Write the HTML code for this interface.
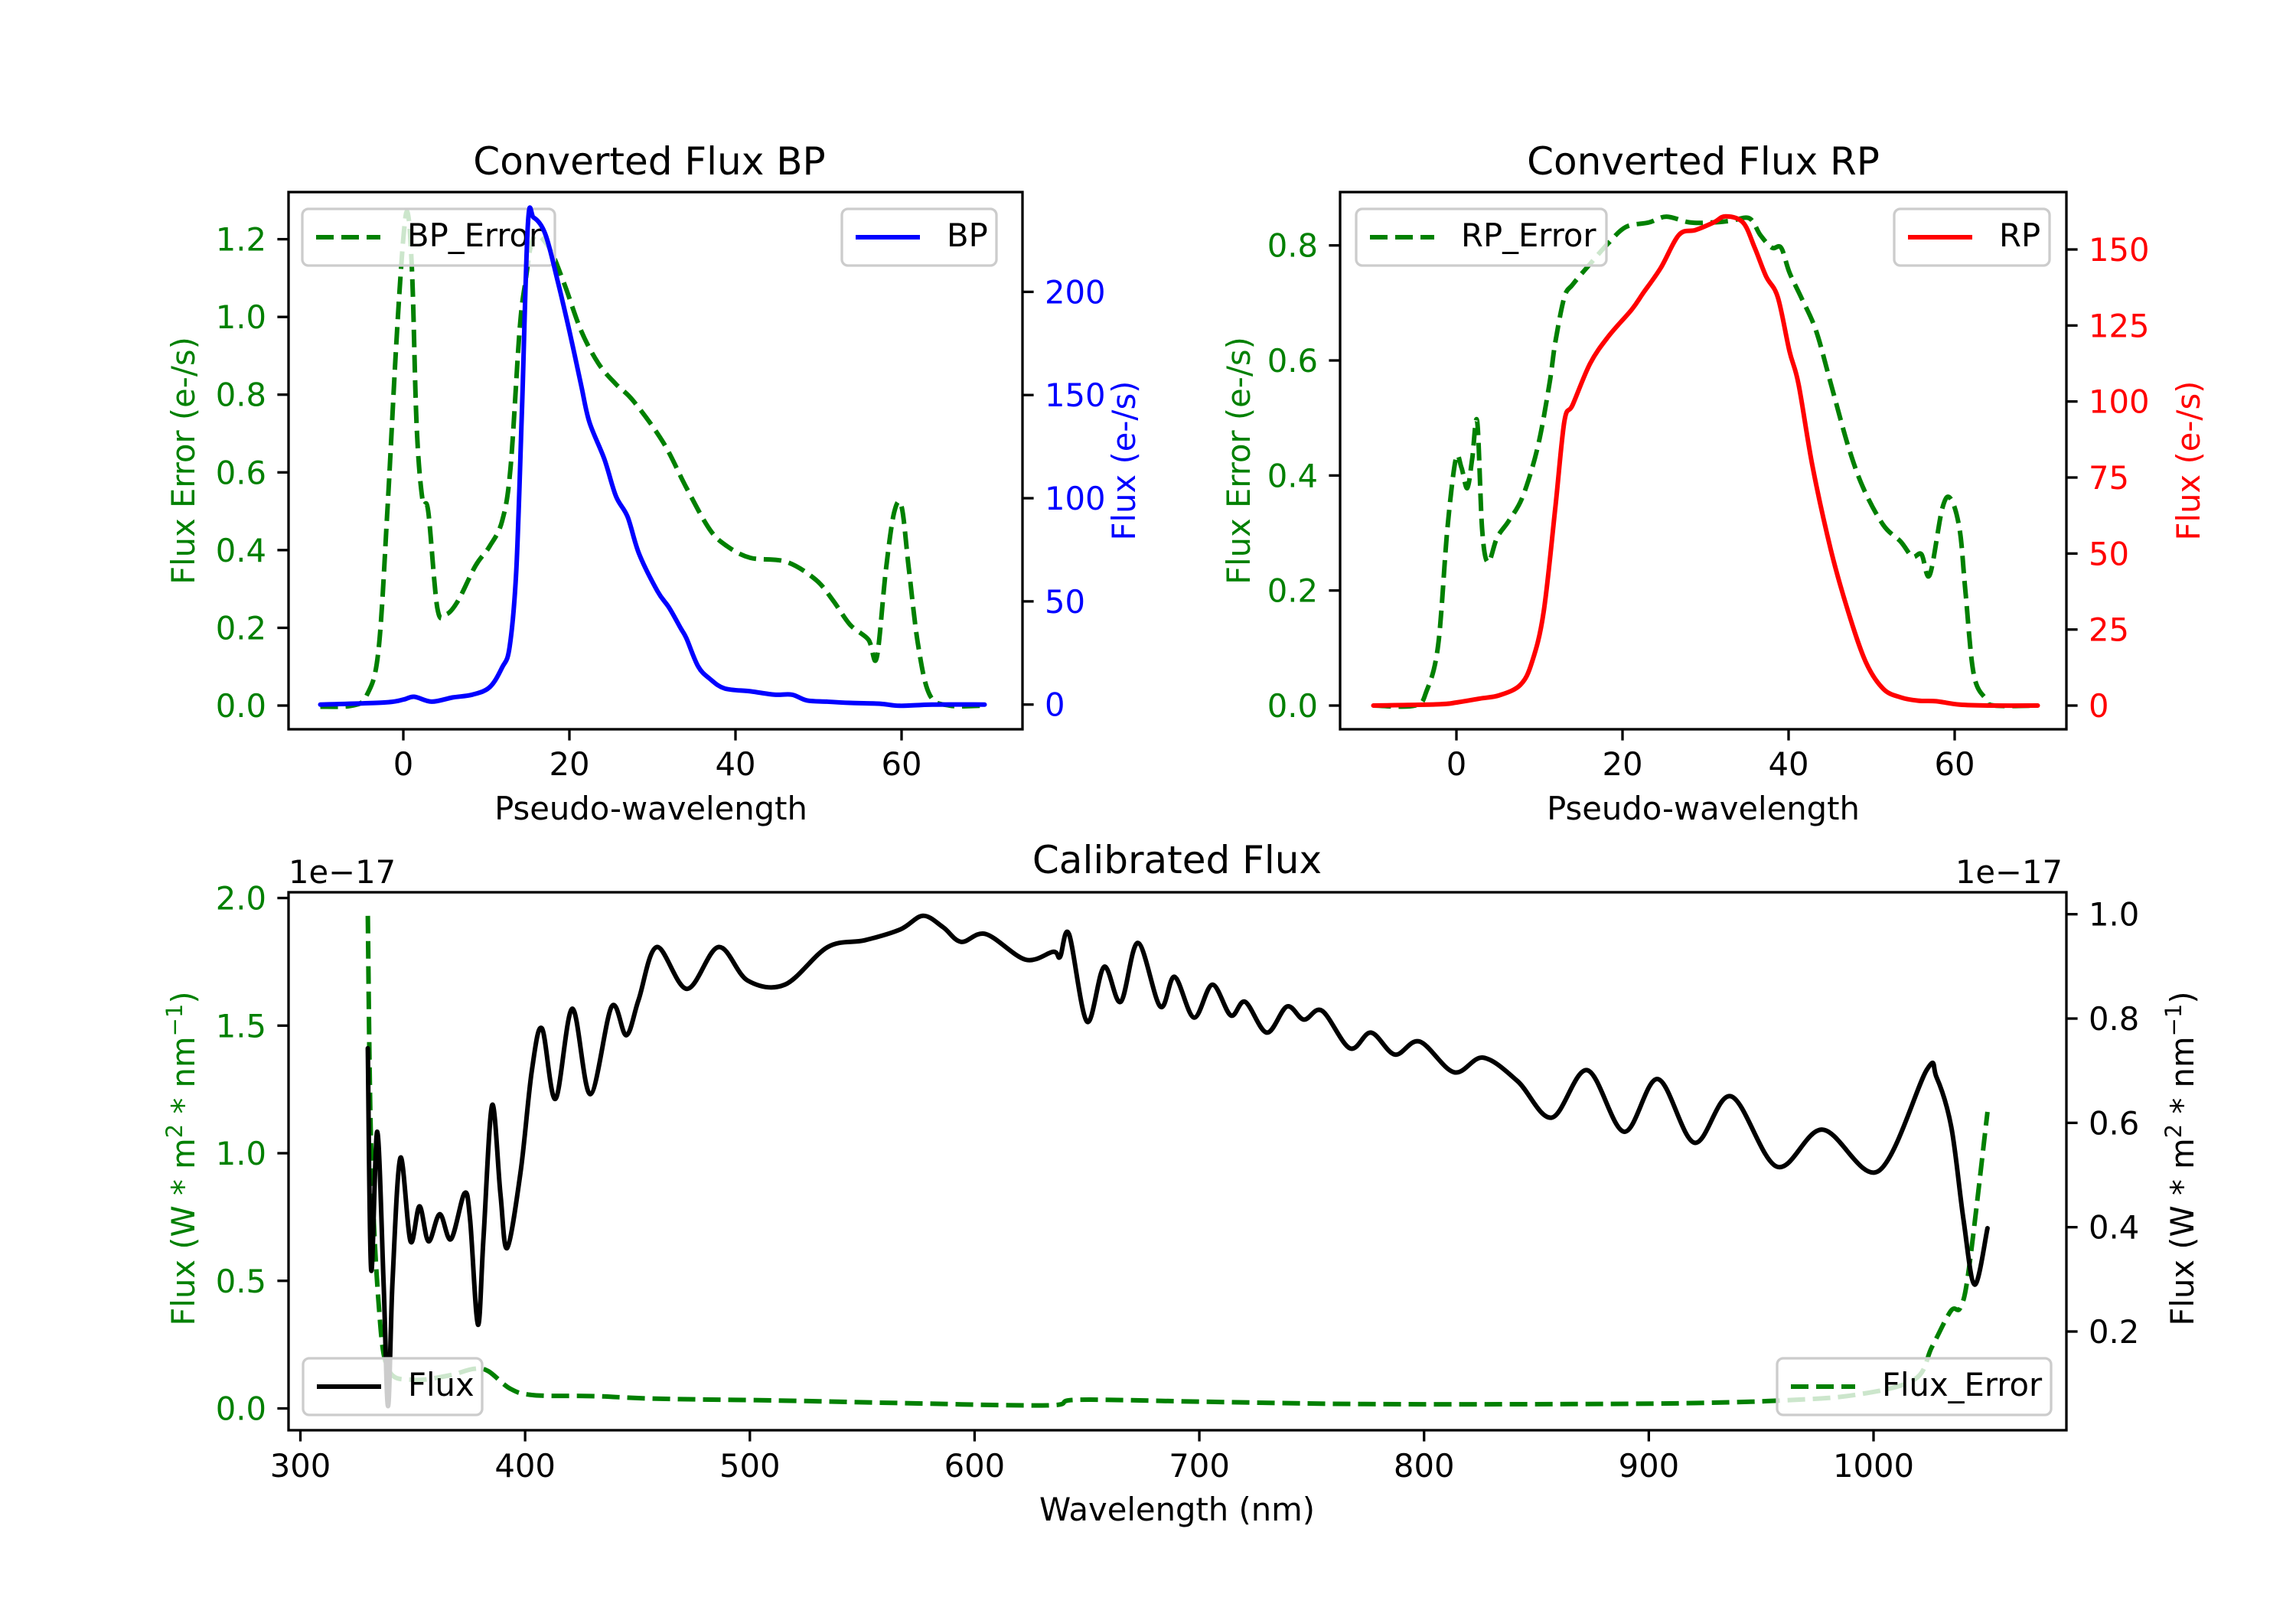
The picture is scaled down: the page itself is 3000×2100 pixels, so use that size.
<!DOCTYPE html>
<html><head><meta charset="utf-8">
<style>
html,body{margin:0;padding:0;background:#fff;}
svg{display:block;font-family:"DejaVu Sans","Liberation Sans",sans-serif;}
</style></head>
<body>
<svg id="fig" width="3000" height="2100" viewBox="0 0 3000 2100" xmlns="http://www.w3.org/2000/svg"></svg>
<script>
// ---------- DATA ----------
const bpFluxX = [-10,-2.3,0,1.3,3.4,5.9,8.3,10.4,11.9,12.8,13.6,14.3,15.0,15.7,17.1,18.6,20,21.4,22.4,24.2,25.6,27.0,28.4,30.6,32,33.4,34.1,35.5,36.9,38.7,41.8,44.7,46.8,48.6,51,53.8,57.4,59.8,63.7,70];
const bpFluxY = [0,1,2.4,3.8,1.4,3.4,4.8,8.4,18,28,65,145,233,236,228,205,181,155,137,119,101,91,73,55,47,37,32,18.5,12.5,7.8,6.4,4.8,4.8,2,1.4,0.8,0.4,-0.6,0,0];
const bpErrX = [-10,-6.1,-4.4,-3,-1.9,-0.85,0.07,0.6,1.1,1.6,2.3,3,4.1,5.2,6.6,8.7,10.4,11.9,12.9,14,14.7,15.7,17.5,19.3,21.4,23.5,25.6,27.7,31.3,34.1,36.9,39,41.8,46.1,49.6,51.7,53.8,56,57,58.1,59.1,60,60.9,62,63.4,65.8,70];
const bpErrY = [-0.003,0,0.027,0.14,0.51,0.93,1.22,1.26,1.09,0.72,0.53,0.50,0.25,0.235,0.27,0.36,0.41,0.475,0.61,0.965,1.09,1.205,1.18,1.09,0.965,0.88,0.827,0.784,0.677,0.56,0.453,0.41,0.38,0.37,0.325,0.272,0.208,0.17,0.123,0.347,0.496,0.512,0.347,0.155,0.027,0,0];
const rpFluxX = [-10,-2.2,0,2.8,5.2,7.7,9.1,10.5,11.9,13,14,16.1,18.3,21.1,22.5,24.6,26.8,28.8,31,32.4,34.5,35.9,37.3,38.7,40.1,41.2,42.9,45.1,47.2,49.3,51.4,53.5,55.6,57.8,60.6,64.1,70];
const rpFluxY = [0,0.4,1,2.3,3.4,6.8,14.3,30.7,64.8,93.4,98.9,112.5,121.4,130.2,135.7,143.9,154.8,156.4,158.9,160.9,158.9,150.7,141.1,134.3,116.6,105.7,78.4,51.1,30.7,14.3,5.5,2.7,1.6,1.4,0.3,0,0];
const rpErrX = [-10,-5,-3.6,-2.2,-1.1,-0.07,0.6,1.3,1.9,2.5,3.1,3.8,4.9,6.3,8,9.8,11.2,11.9,13,14,16.1,18.3,20.4,23.2,25.3,28.1,31,33.1,35.3,36.6,38,39.1,40.1,41.5,43.3,45.1,47.2,49,51.4,53.5,54.9,56,57,58.5,59.5,60.6,61.3,62.3,63.8,64.8,70];
const rpErrY = [0,0,0.025,0.105,0.306,0.429,0.414,0.378,0.429,0.494,0.306,0.249,0.292,0.321,0.364,0.450,0.559,0.631,0.710,0.732,0.768,0.804,0.832,0.840,0.850,0.840,0.840,0.843,0.847,0.818,0.796,0.796,0.753,0.710,0.652,0.559,0.450,0.378,0.314,0.285,0.259,0.263,0.227,0.342,0.360,0.306,0.198,0.054,0.011,0,0];
const calWave = [330,331.5,334.2,337,339,341,344.5,349,353,357,362,367,373,375.5,379,381.5,385.3,389,392,398,403,407.5,413.5,421,429,438.5,445,450.5,458.6,472,486,499,515.6,534.6,551,567,577,586,594,605,622.6,635,638,642,650,657.6,665,672.7,682.6,689,697.6,705.8,714,720.4,730,739,746.5,754.6,767,776.4,787,798,813.3,826.3,841.6,856.8,872.6,889,904,920.3,936.6,957,977.3,1002,1023.6,1028,1034.6,1040,1045,1050.7];
const calFlux = [0.743,0.318,0.583,0.297,0.057,0.297,0.533,0.373,0.44,0.373,0.425,0.377,0.465,0.415,0.213,0.381,0.634,0.465,0.36,0.507,0.701,0.781,0.646,0.819,0.655,0.823,0.768,0.836,0.937,0.857,0.937,0.873,0.865,0.937,0.95,0.971,0.997,0.975,0.947,0.962,0.913,0.928,0.918,0.962,0.794,0.899,0.832,0.945,0.823,0.880,0.802,0.865,0.806,0.832,0.773,0.823,0.798,0.815,0.743,0.773,0.731,0.756,0.697,0.725,0.68,0.61,0.701,0.583,0.684,0.562,0.651,0.516,0.587,0.507,0.701,0.688,0.592,0.415,0.29,0.398];
const errWave = [330,331.5,334.8,339,350,366,377,383.6,393.4,404,431.5,458.6,513,567,632.4,646,703,773.6,866,920,958.3,991,1018,1026,1034.4,1038.7,1042.5,1050.7];
const errFlux = [1.93,1.015,0.413,0.155,0.112,0.129,0.155,0.146,0.077,0.052,0.048,0.038,0.031,0.021,0.012,0.034,0.026,0.017,0.017,0.021,0.031,0.052,0.112,0.241,0.382,0.396,0.551,1.162];
const pwTicks = [0,20,40,60];
const bpErrTicks = [0.0,0.2,0.4,0.6,0.8,1.0,1.2];
const bpFluxTicks = [0,50,100,150,200];
const rpErrTicks = [0.0,0.2,0.4,0.6,0.8];
const rpFluxTicks = [0,25,50,75,100,125,150];
const waveTicks = [300,400,500,600,700,800,900,1000];
const calErrTicks = [0.0,0.5,1.0,1.5,2.0];
const calFluxTicks = [0.2,0.4,0.6,0.8,1.0];

// ---------- HELPERS ----------
const NS='http://www.w3.org/2000/svg';
const svg=document.getElementById('fig');
function mk(tag,attrs,parent){const e=document.createElementNS(NS,tag);for(const k in attrs)e.setAttribute(k,attrs[k]);(parent||svg).appendChild(e);return e;}
function lin(d0,d1,p0,p1){return v=>p0+(v-d0)*(p1-p0)/(d1-d0);}
const FS=41.7;
function fmt(v,d){return v.toFixed(d);}
function smoothPath(P){
  // Catmull-Rom spline through screen points (x monotone clamp on control points)
  let d='M'+P[0][0].toFixed(1)+','+P[0][1].toFixed(1);
  for(let i=0;i<P.length-1;i++){
    const p0=P[Math.max(0,i-1)],p1=P[i],p2=P[i+1],p3=P[Math.min(P.length-1,i+2)];
    const t=1/6;
    let c1x=p1[0]+(p2[0]-p0[0])*t,c1y=p1[1]+(p2[1]-p0[1])*t;
    let c2x=p2[0]-(p3[0]-p1[0])*t,c2y=p2[1]-(p3[1]-p1[1])*t;
    c1x=Math.min(Math.max(c1x,p1[0]),p2[0]);c2x=Math.min(Math.max(c2x,p1[0]),p2[0]);
    d+='C'+c1x.toFixed(1)+','+c1y.toFixed(1)+' '+c2x.toFixed(1)+','+c2y.toFixed(1)+' '+p2[0].toFixed(1)+','+p2[1].toFixed(1);
  }
  return d;
}
function line(xs,ys,sx,sy,color,dashed,name){
  const P=xs.map((x,i)=>[sx(x),sy(ys[i])]);
  const p=mk('path',{d:smoothPath(P),fill:'none',stroke:color,'stroke-width':6,'stroke-linejoin':'round','stroke-linecap':dashed?'butt':'round'});
  if(dashed)p.setAttribute('stroke-dasharray','23 10');
  
  
  return p;
}
function legend(x0,y0,w,label,color,dashed,name){
  const g=mk('g',{});
  
  
  mk('rect',{x:x0,y:y0,width:w,height:74,rx:8,fill:'#fff','fill-opacity':0.8,stroke:'#cccccc','stroke-width':3.3},g);
  const l=mk('line',{x1:x0+18,x2:x0+102,y1:y0+37,y2:y0+37,stroke:color,'stroke-width':6},g);
  if(dashed)l.setAttribute('stroke-dasharray','23 10');
  const t=mk('text',{x:x0+137,y:y0+49,'font-size':FS,fill:'#000'},g);t.textContent=label;
}
function frame(L,R,T,B,name){
  const r=mk('rect',{x:L,y:T,width:R-L,height:B-T,fill:'none',stroke:'#000','stroke-width':3.3});
  
  
}
function xTicks(ticks,sx,B,labY,dec){
  ticks.forEach(v=>{const x=sx(v);mk('line',{x1:x,x2:x,y1:B,y2:B+14.6,stroke:'#000','stroke-width':3.3});
    const t=mk('text',{x:x,y:labY,'font-size':FS,'text-anchor':'middle',fill:'#000'});t.textContent=fmt(v,dec);
    
    });
}
function yTicks(ticks,sy,X,side,color,dec){
  ticks.forEach(v=>{const y=sy(v);const dx=side<0?-14.6:14.6;
    mk('line',{x1:X,x2:X+dx,y1:y,y2:y,stroke:'#000','stroke-width':3.3});
    const t=mk('text',{x:X+(side<0?-29:29),y:y+15,'font-size':FS,'text-anchor':side<0?'end':'start',fill:color});t.textContent=fmt(v,dec);
    
    });
}
function text(x,y,s,size,color,anchor,rot,name){
  const t=mk('text',{x:x,y:y,'font-size':size,fill:color,'text-anchor':anchor||'middle'});
  if(rot)t.setAttribute('transform','rotate(-90 '+x+' '+y+')');
  t.textContent=s;
  
  
  return t;
}

// ---------- BP PANEL ----------
(function(){
  const L=377,R=1336,T=251,B=953;
  const sx=lin(0,60,527,1178);
  const syE=lin(0,1.2,922,312.6);
  const syF=lin(0,200,920.7,381.4);
  const cp=mk('clipPath',{id:'cbp'});mk('rect',{x:L,y:T,width:R-L,height:B-T},cp);
  const g1=mk('g',{'clip-path':'url(#cbp)'});
  g1.appendChild(line(bpErrX,bpErrY,sx,syE,'#008000',true,'bp-error-line'));
  legend(395,273,330,'BP_Error','#008000',true,'bp-error-legend');
  const g2=mk('g',{'clip-path':'url(#cbp)'});
  g2.appendChild(line(bpFluxX,bpFluxY,sx,syF,'#0000ff',false,'bp-flux-line'));
  legend(1100,273,202,'BP','#0000ff',false,'bp-legend');
  frame(L,R,T,B,'bp-axes');
  xTicks(pwTicks,sx,B,1013,0);
  yTicks(bpErrTicks,syE,L,-1,'#008000',1);
  yTicks(bpFluxTicks,syF,R,1,'#0000ff',0);
  text((L+R)/2-8,228,'Converted Flux BP',50,'#000','middle',false,'bp-title');
  text((L+R)/2-6,1071,'Pseudo-wavelength',FS,'#000','middle',false,'bp-x-axis-title');
  text(254,602,'Flux Error (e-/s)',FS,'#008000','middle',true,'bp-left-y-axis-title');
  text(1483,602,'Flux (e-/s)',FS,'#0000ff','middle',true,'bp-right-y-axis-title');
})();

// ---------- RP PANEL ----------
(function(){
  const L=1751,R=2700,T=251,B=953;
  const sx=lin(0,60,1903,2554);
  const syE=lin(0,0.8,922,320.7);
  const syF=lin(0,150,922,326);
  const cp=mk('clipPath',{id:'crp'});mk('rect',{x:L,y:T,width:R-L,height:B-T},cp);
  const g1=mk('g',{'clip-path':'url(#crp)'});
  g1.appendChild(line(rpErrX,rpErrY,sx,syE,'#008000',true,'rp-error-line'));
  legend(1772,273,327,'RP_Error','#008000',true,'rp-error-legend');
  const g2=mk('g',{'clip-path':'url(#crp)'});
  g2.appendChild(line(rpFluxX,rpFluxY,sx,syF,'#ff0000',false,'rp-flux-line'));
  legend(2475,273,203,'RP','#ff0000',false,'rp-legend');
  frame(L,R,T,B,'rp-axes');
  xTicks(pwTicks,sx,B,1013,0);
  yTicks(rpErrTicks,syE,L,-1,'#008000',1);
  yTicks(rpFluxTicks,syF,R,1,'#ff0000',0);
  text((L+R)/2,228,'Converted Flux RP',50,'#000','middle',false,'rp-title');
  text((L+R)/2,1071,'Pseudo-wavelength',FS,'#000','middle',false,'rp-x-axis-title');
  text(1633,602,'Flux Error (e-/s)',FS,'#008000','middle',true,'rp-left-y-axis-title');
  text(2874,602,'Flux (e-/s)',FS,'#ff0000','middle',true,'rp-right-y-axis-title');
})();

// ---------- CALIBRATED PANEL ----------
(function(){
  const L=377,R=2700,T=1166,B=1869;
  const sx=lin(300,1000,392.5,2448);
  const syE=lin(0,2.0,1840.5,1173.5);
  const syF=lin(0.2,1.0,1740,1194.7);
  const cp=mk('clipPath',{id:'ccal'});mk('rect',{x:L,y:T,width:R-L,height:B-T},cp);
  const g1=mk('g',{'clip-path':'url(#ccal)'});
  g1.appendChild(line(errWave,errFlux,sx,syE,'#008000',true,'flux-error-line'));
  g1.appendChild(line(calWave,calFlux,sx,syF,'#000000',false,'flux-line'));
  legend(396,1775,234,'Flux','#000',false,'flux-legend');
  legend(2322,1775,358,'Flux_Error','#008000',true,'flux-error-legend');
  frame(L,R,T,B,'calibrated-axes');
  xTicks(waveTicks,sx,B,1930,0);
  yTicks(calErrTicks,syE,L,-1,'#008000',1);
  yTicks(calFluxTicks,syF,R,1,'#000',1);
  text(1538,1141,'Calibrated Flux',50,'#000','middle',false,'calibrated-title');
  text(1538,1987,'Wavelength (nm)',FS,'#000','middle',false,'wavelength-axis-title');
  text(377,1154,'1e\u221217',FS,'#000','start',false,'left-offset-text');
  text(2695,1154,'1e\u221217',FS,'#000','end',false,'right-offset-text');
  function ylab(x,color,name){
    const t=mk('text',{x:x,y:1514,'font-size':FS,fill:color,'text-anchor':'middle',transform:'rotate(-90 '+x+' 1514)'});
    
    
    t.appendChild(document.createTextNode('Flux (W * m'));
    const s1=mk('tspan',{'font-size':29,dy:-16},t);s1.textContent='2';
    const s2=mk('tspan',{dy:16},t);s2.textContent=' * nm';
    const s3=mk('tspan',{'font-size':29,dy:-16},t);s3.textContent='\u22121';
    const s4=mk('tspan',{dy:16},t);s4.textContent=')';
  }
  ylab(254,'#008000','calibrated-left-y-axis-title');
  ylab(2866,'#000','calibrated-right-y-axis-title');
})();
</script>
</body></html>
